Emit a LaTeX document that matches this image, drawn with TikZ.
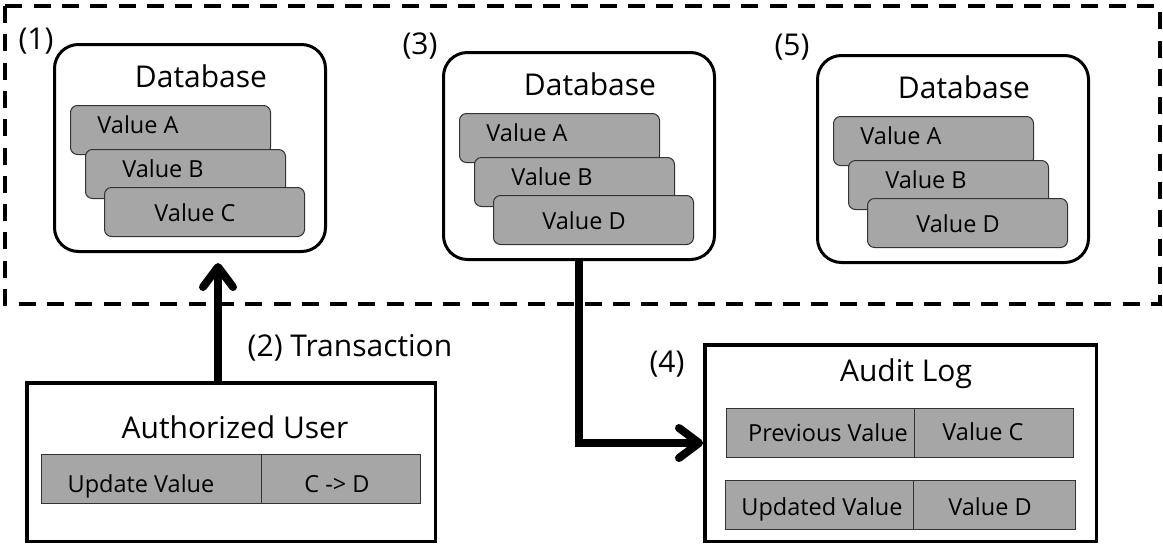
\documentclass[tikz,border=0pt]{standalone}
\usepackage{fontspec}
\setmainfont{Open Sans}
\usetikzlibrary{arrows.meta}

\definecolor{cellgray}{HTML}{A6A6A6}
\definecolor{cellline}{HTML}{333333}

% One database panel: rounded frame, title and three stacked value records.
% #1 name, #2/#3 top-left corner, #4 label of the last record
\newcommand{\dbpanel}[4]{%
  \begin{scope}[shift={(#2,#3)}]
    \node[dbbox] (#1) at (0,0) {};
    \node[bigtext] (#1-title) at (148,44) {Database};
    \node[valbox] (#1-a) at (17,62) {};
    \node[smalltext] (#1-at) at (85,90) {Value A};
    \node[valbox] (#1-b) at (32,106) {};
    \node[smalltext] (#1-bt) at (110,134) {Value B};
    \node[valbox] (#1-c) at (51,144) {};
    \node[smalltext] (#1-ct) at (142,178) {#4};
  \end{scope}}

\begin{document}
\begin{tikzpicture}[x=1pt,y=-1pt,
  bigtext/.style={font=\fontsize{30}{36}\selectfont, inner sep=0pt, anchor=base},
  smalltext/.style={font=\fontsize{23.5}{28}\selectfont, inner sep=0pt, anchor=base},
  dbbox/.style={draw, line width=3pt, rounded corners=24pt, fill=white,
    minimum width=271pt, minimum height=207pt, inner sep=0pt, anchor=north west},
  valbox/.style={draw=cellline, line width=1pt, fill=cellgray, rounded corners=7pt,
    minimum width=200pt, minimum height=49pt, inner sep=0pt, anchor=north west},
  panel/.style={draw, line width=3.5pt, fill=white, inner sep=0pt},
  cell/.style={draw=cellline, line width=1pt, fill=cellgray, minimum height=49pt, inner sep=0pt},
  groupframe/.style={line width=4pt, dash pattern=on 17pt off 11.3pt},
  flow/.style={line width=8pt, -{Straight Barb[length=20pt, width=30pt, round]}}
]
\useasboundingbox (0,0) rectangle (1163,546);

% frame around the three database states
\draw[groupframe] (5,6) rectangle (1159.5,303.5);

% database states
\dbpanel{db1}{53}{43}{Value C}
\dbpanel{db3}{442}{51}{Value D}
\dbpanel{db5}{816}{54}{Value D}

\node[bigtext] (l1) at (36,49) {(1)};
\node[bigtext] (l3) at (420,54) {(3)};
\node[bigtext] (l5) at (792,56) {(5)};

% authorized user with its update request
\node[panel, minimum width=408.5pt, minimum height=158.5pt] (user) at (231,462) {};
\node[bigtext] (usertitle) at (235,438) {Authorized User};
\node[cell, minimum width=220pt] (upd) at (151,479) {};
\node[cell, minimum width=159pt] (cd) at (340.5,479) {};
\node[smalltext] (updt) at (141,492) {Update Value};
\node[smalltext] (cdt) at (337,492) {C -> D};

% audit log
\node[panel, minimum width=391.5pt, minimum height=196.5pt] (audit) at (900.5,443) {};
\node[bigtext] (audittitle) at (906,381) {Audit Log};
\node[cell, minimum width=188pt] (prev) at (820,432.5) {};
\node[cell, minimum width=159pt] (prevv) at (993.5,432.5) {};
\node[cell, minimum width=188pt] (updv) at (819,505) {};
\node[cell, minimum width=162pt] (updvv) at (994,505) {};
\node[smalltext] (prevt) at (828,441) {Previous Value};
\node[smalltext] (prevvt) at (983,440) {Value C};
\node[smalltext] (updvt) at (822,515) {Updated Value};
\node[smalltext] (updvvt) at (990,515) {Value D};

% flows
\draw[flow] ([xshift=-13pt]user.north) -- ([xshift=28pt,yshift=-10pt]db1.south);
\node[bigtext] (tx) at (350,356) {(2) Transaction};
\draw[flow] (db3.south) |- (audit.west);
\node[bigtext] (l4) at (667,372) {(4)};
\end{tikzpicture}
\end{document}
